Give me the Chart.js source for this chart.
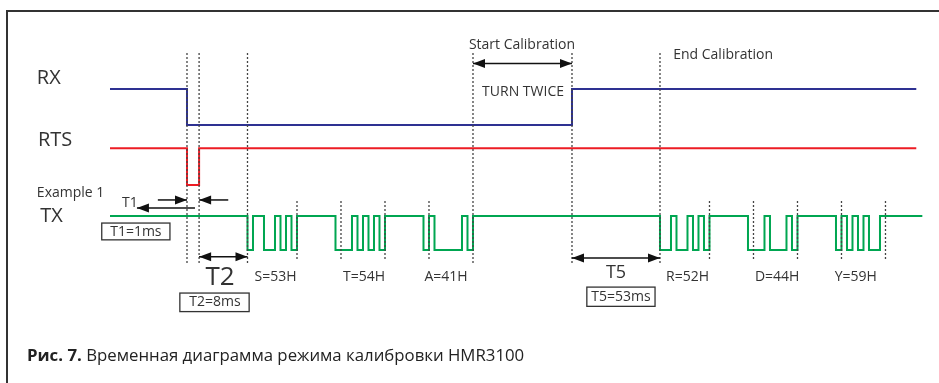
<!DOCTYPE html>
<html>
<head>
<meta charset="utf-8">
<script src="https://cdn.jsdelivr.net/npm/chart.js@4"></script>
<style>
html, body { margin: 0; padding: 0; background: #fff; }
#contenedor { position: relative; width: 939px; height: 383px; overflow: hidden; }
#marco { position: absolute; left: 6px; top: 10px; width: 960px; height: 400px; border-top: 2px solid #333; border-left: 2px solid #333; }
canvas { position: absolute; left: 0; top: 0; }
</style>
</head>
<body>
<div id="contenedor"><div id="marco"></div><canvas id="diagrama" width="939" height="383"></canvas></div>
<script>
// Tiempo medido en periodos de bit
const rxTiempos = [0, 14, 84];
const rxEstados = [1, 0, 1];
const rtsTiempos = [0, 14, 16.2];
const rtsEstados = [1, 0, 1];
const finLineas = 146.6;
const finTx = 147.7;
// Niveles bajo / alto de cada señal
const nivelRx = [3.57, 4.6];
const nivelRts = [1.86, 2.91];
const nivelTx = [0, 0.97];
// Bytes enviados por TX, tal como se ven: bit de arranque + bits de datos
const bytesNombres = ["S=53H", "T=54H", "A=41H", "R=52H", "D=44H", "Y=59H"];
const bytesInicio = [25, 41, 57, 100, 116, 132];
const bytesBits = ["011001010", "000101010", "010000010", "001001010", "000100010", "01010100"];
// Líneas punteadas
const lineasLargas = [14, 16.2, 25, 66, 84, 100];
const lineasCortas = [34, 42, 50, 58, 109, 117, 125, 133, 141];

const $diagrama = document.querySelector("#diagrama");

// Convierte tiempos y estados en puntos para una línea escalonada
function escalones(tiempos, estados, nivel, fin) {
    const puntos = tiempos.map((t, i) => ({ x: t, y: nivel[estados[i]] }));
    puntos.push({ x: fin, y: nivel[estados[estados.length - 1]] });
    return puntos;
}

// Tren de bits de TX
const txTiempos = [0];
const txEstados = [1];
bytesInicio.forEach((inicio, b) => {
    const bits = bytesBits[b].split("");
    bits.forEach((bit, i) => {
        txTiempos.push(inicio + i);
        txEstados.push(Number(bit));
    });
    txTiempos.push(inicio + bits.length); // bit de parada
    txEstados.push(1);
});

function punteadas(posiciones, arriba, abajo) {
    const puntos = [];
    posiciones.forEach(p => {
        puntos.push({ x: p, y: arriba }, { x: p, y: abajo }, { x: p, y: null });
    });
    return puntos;
}

const colorTexto = "#333";
const fuente = "'Open Sans', sans-serif";

// Textos, flechas y recuadros dibujados sobre las escalas
const textos = [
    ["RX", -13.3, 4.91, 20, "left"],
    ["RTS", -13.1, 3.14, 20, "left"],
    ["Example 1", -13.3, 1.63, 14, "left"],
    ["TX", -12.7, 0.97, 20, "left"],
    ["T1", 2.2, 1.34, 14, "left"],
    ["T1=1ms", 4.7, 0.51, 14, "center"],
    ["T2", 20, -0.8, 26, "center"],
    ["T2=8ms", 19.1, -1.5, 14, "center"],
    ["T5", 92, -0.66, 18, "center"],
    ["T5=53ms", 92.9, -1.34, 14, "center"],
    ["Start Calibration", 74.9, 5.86, 14, "center"],
    ["TURN TWICE", 75.1, 4.51, 14, "center"],
    ["End Calibration", 102.4, 5.57, 14, "left"],
];
const etiquetasBytesX = [30.1, 46.2, 61.1, 105, 121.3, 135.6];
const flechas = [
    // [x1, x2, y, cabezas]
    [15.45, 4.9, 1.2, "fin"],
    [8.7, 14, 1.43, "fin"],
    [21.5, 16.2, 1.43, "fin"],
    [16.2, 25, -0.19, "ambas"],
    [84, 100, -0.23, "ambas"],
    [66, 84, 5.33, "ambas"],
];
const recuadros = [
    // [x1, x2, y1, y2]
    [-1.5, 10.9, 0.77, 0.29],
    [12.7, 25.3, -1.23, -1.76],
    [86.7, 99.1, -1.06, -1.61],
];

const anotaciones = {
    id: "anotaciones",
    afterDatasetsDraw(chart) {
        const { ctx, scales: { x, y } } = chart;
        const px = v => x.getPixelForValue(v);
        const py = v => y.getPixelForValue(v);
        ctx.save();
        ctx.fillStyle = colorTexto;
        ctx.strokeStyle = colorTexto;
        ctx.textBaseline = "middle";
        textos.forEach(([t, tx, ty, tam, al]) => {
            ctx.font = tam + "px " + fuente;
            ctx.textAlign = al;
            ctx.fillText(t, px(tx), py(ty));
        });
        ctx.font = "14px " + fuente;
        ctx.textAlign = "center";
        bytesNombres.forEach((n, i) => ctx.fillText(n, px(etiquetasBytesX[i]), py(-0.77)));

        // Recuadros
        ctx.lineWidth = 1.3;
        recuadros.forEach(([x1, x2, y1, y2]) => {
            ctx.strokeRect(px(x1), py(y1), px(x2) - px(x1), py(y2) - py(y1));
        });

        // Flechas
        ctx.strokeStyle = "#111";
        ctx.fillStyle = "#111";
        ctx.lineWidth = 1.5;
        const punta = (xp, yp, dir) => {
            ctx.beginPath();
            ctx.moveTo(xp, yp);
            ctx.lineTo(xp - dir * 12, yp - 4.5);
            ctx.lineTo(xp - dir * 12, yp + 4.5);
            ctx.closePath();
            ctx.fill();
        };
        flechas.forEach(([x1, x2, fy, cab]) => {
            const a = px(x1), b = px(x2), yp = py(fy);
            ctx.beginPath();
            ctx.moveTo(a, yp);
            ctx.lineTo(b, yp);
            ctx.stroke();
            const dir = Math.sign(b - a);
            punta(b, yp, dir);
            if (cab === "ambas") punta(a, yp, -dir);
        });

        // Pie de figura
        ctx.fillStyle = "#222";
        ctx.textAlign = "left";
        ctx.font = "bold 16.8px " + fuente;
        const negrita = "Рис. 7.";
        ctx.fillText(negrita, 27, 356);
        const ancho = ctx.measureText(negrita + " ").width;
        ctx.font = "16.8px " + fuente;
        ctx.fillText("Временная диаграмма режима калибровки HMR3100", 27 + ancho, 356);
        ctx.restore();
    }
};

new Chart($diagrama, {
    type: "line",
    data: {
        datasets: [
            {
                data: punteadas(lineasLargas, 5.63, -0.4),
                borderColor: "#444", borderWidth: 1.3, borderDash: [2, 2],
                pointRadius: 0, spanGaps: false,
            },
            {
                data: punteadas(lineasCortas, 1.4, -0.3),
                borderColor: "#444", borderWidth: 1.3, borderDash: [2, 2],
                pointRadius: 0, spanGaps: false,
            },
            {
                data: escalones(rxTiempos, rxEstados, nivelRx, finLineas),
                borderColor: "#2e3192", borderWidth: 2, stepped: true, pointRadius: 0,
            },
            {
                data: escalones(rtsTiempos, rtsEstados, nivelRts, finLineas),
                borderColor: "#ed1c24", borderWidth: 2, stepped: true, pointRadius: 0,
            },
            {
                data: escalones(txTiempos, txEstados, nivelTx, finTx),
                borderColor: "#00a651", borderWidth: 2, stepped: true, pointRadius: 0,
            },
        ]
    },
    options: {
        responsive: false,
        animation: false,
        devicePixelRatio: 1,
        layout: { padding: 0 },
        scales: {
            x: { type: "linear", min: -20, max: 150.73, display: false },
            y: { type: "linear", min: -3.8, max: 7.143, display: false },
        },
        plugins: { legend: { display: false }, tooltip: { enabled: false } },
    },
    plugins: [anotaciones],
});
</script>
</body>
</html>
